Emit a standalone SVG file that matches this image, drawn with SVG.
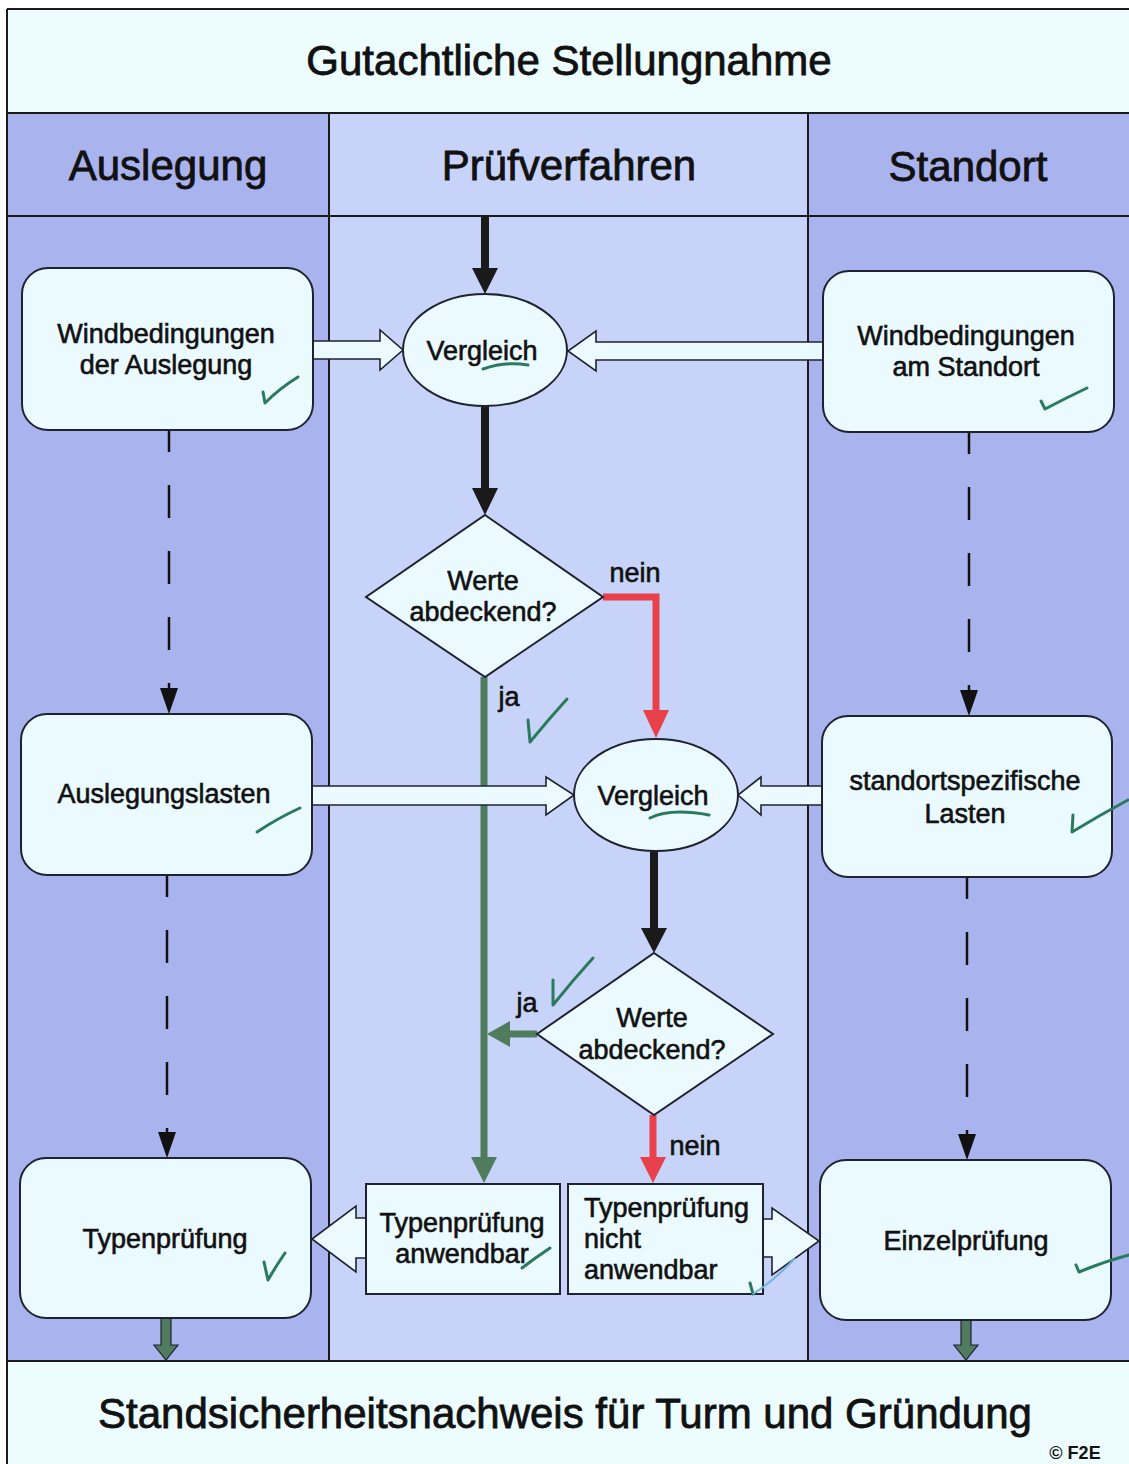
<svg xmlns="http://www.w3.org/2000/svg" width="1129" height="1464" viewBox="0 0 1129 1464">
<defs>
<style>
text{font-family:"Liberation Sans",Arial,sans-serif;fill:#111;text-anchor:middle;stroke:#111;stroke-width:0.6}
.big{font-size:42px;stroke-width:0.8}
.t{font-size:27px}
.node{fill:#eafaff;stroke:#1f2230;stroke-width:2}
.blk{fill:#eafaff;stroke:#1f2230;stroke-width:1.6;stroke-linejoin:miter}
.dash{stroke:#111;stroke-width:2.5;stroke-dasharray:33 33;stroke-dashoffset:11;fill:none}
.blackln{stroke:#1a1a1a;stroke-width:8;fill:none}
.redln{stroke:#e8414b;stroke-width:7;fill:none}
.greenln{stroke:#4e7c5c;stroke-width:7;fill:none}
.chk{stroke:#2a7a5c;stroke-width:3;fill:none;stroke-linecap:round;stroke-linejoin:round}
.grid{stroke:#1a1a1a;stroke-width:2;fill:none}
</style>
</defs>
<rect x="0" y="0" width="1129" height="1464" fill="#ffffff"/>
<g id="background">
<rect x="7" y="8" width="1122" height="105" fill="#ecfcff"/>
<rect x="7" y="113" width="322" height="1247" fill="#a9b3ee"/>
<rect x="329" y="113" width="479" height="1247" fill="#c7d3f8"/>
<rect x="808" y="113" width="321" height="1247" fill="#a9b3ee"/>
<rect x="7" y="1360" width="1122" height="104" fill="#ecfcff"/>
<path class="grid" d="M7,9 H1129 M7,113 H1129 M7,216 H1129 M7,1361 H1129 M7,9 V1464 M329,113 V1361 M808,113 V1361"/>
</g>
<g id="titles">
<text class="big" x="569" y="75">Gutachtliche Stellungnahme</text>
<text class="big" x="168" y="180">Auslegung</text>
<text class="big" x="569" y="180">Prüfverfahren</text>
<text class="big" x="968" y="181">Standort</text>
<text class="big" x="565" y="1428">Standsicherheitsnachweis für Turm und Gründung</text>
<text x="1075" y="1459" style="font-size:18px;font-weight:bold;stroke-width:0">© F2E</text>
</g>
<g id="connectors">
<line class="blackln" x1="485" y1="217" x2="485" y2="272"/>
<polygon points="472,268 498,268 485,294" fill="#1a1a1a"/>
<line class="blackln" x1="485" y1="406" x2="485" y2="492"/>
<polygon points="472,488 498,488 485,515" fill="#1a1a1a"/>
<line class="blackln" x1="654" y1="851" x2="654" y2="932"/>
<polygon points="641,928 667,928 654,953" fill="#1a1a1a"/>
<path class="redln" d="M603,597 H656 V714"/>
<polygon points="643,710 669,710 656,738" fill="#e8414b"/>
<path class="redln" d="M653,1115 V1160"/>
<polygon points="640,1157 666,1157 653,1183" fill="#e8414b"/>
<path class="greenln" d="M484,677 V1160"/>
<polygon points="471,1157 497,1157 484,1183" fill="#4e7c5c"/>
<path class="greenln" d="M537,1034 H506"/>
<polygon points="510,1021 510,1047 487,1034" fill="#4e7c5c"/>
<line class="dash" x1="169" y1="430" x2="169" y2="690"/>
<polygon points="160,688 178,688 169,714" fill="#111"/>
<line class="dash" x1="167" y1="875" x2="167" y2="1134"/>
<polygon points="158,1132 176,1132 167,1158" fill="#111"/>
<line class="dash" x1="969" y1="432" x2="969" y2="692"/>
<polygon points="960,690 978,690 969,716" fill="#111"/>
<line class="dash" x1="967" y1="877" x2="967" y2="1136"/>
<polygon points="958,1134 976,1134 967,1160" fill="#111"/>
<polygon class="blk" points="312,341 380,341 380,330 403,350 380,370 380,359 312,359"/>
<polygon class="blk" points="823,342 596,342 596,331 568,351 596,371 596,360 823,360"/>
<polygon class="blk" points="311,786 546,786 546,777 574,795 546,815 546,805 311,805"/>
<polygon class="blk" points="823,786 761,786 761,777 738,795 761,815 761,805 823,805"/>
<polygon points="161,1318 171,1318 171,1345 178,1345 166,1360 154,1345 161,1345" fill="#4e7c5c" stroke="#1f2230" stroke-width="1.2"/>
<polygon points="961,1320 971,1320 971,1345 978,1345 966,1360 954,1345 961,1345" fill="#4e7c5c" stroke="#1f2230" stroke-width="1.2"/>
</g>
<g id="n-wind-auslegung">
<rect class="node" x="22" y="268" width="291" height="162" rx="26"/>
<text class="t" x="166" y="343">Windbedingungen</text>
<text class="t" x="166" y="374">der Auslegung</text>
</g>
<g id="n-wind-standort">
<rect class="node" x="823" y="271" width="291" height="161" rx="26"/>
<text class="t" x="966" y="345">Windbedingungen</text>
<text class="t" x="966" y="376">am Standort</text>
</g>
<g id="n-vergleich1">
<ellipse class="node" cx="485" cy="350" rx="82" ry="56"/>
<text class="t" x="482" y="360">Vergleich</text>
</g>
<g id="n-werte1">
<polygon class="node" points="485,515 603,597 485,677 366,597"/>
<text class="t" x="483" y="590">Werte</text>
<text class="t" x="483" y="621">abdeckend?</text>
</g>
<g id="n-vergleich2">
<ellipse class="node" cx="656" cy="795" rx="82" ry="56"/>
<text class="t" x="653" y="805">Vergleich</text>
</g>
<g id="n-auslegungslasten">
<rect class="node" x="21" y="714" width="291" height="161" rx="26"/>
<text class="t" x="164" y="803">Auslegungslasten</text>
</g>
<g id="n-standortlasten">
<rect class="node" x="822" y="716" width="290" height="161" rx="26"/>
<text class="t" x="965" y="790">standortspezifische</text>
<text class="t" x="965" y="823">Lasten</text>
</g>
<g id="n-werte2">
<polygon class="node" points="654,953 773,1034 654,1115 537,1034"/>
<text class="t" x="652" y="1027">Werte</text>
<text class="t" x="652" y="1059">abdeckend?</text>
</g>
<g id="n-typ-anwendbar">
<polygon class="blk" points="366,1218 356,1218 356,1206 312,1239 356,1272 356,1258 366,1258"/>
<rect class="node" x="366" y="1184" width="194" height="110"/>
<text class="t" x="462" y="1232">Typenprüfung</text>
<text class="t" x="462" y="1263">anwendbar</text>
</g>
<g id="n-typ-nicht">
<polygon class="blk" points="763,1219 772,1219 772,1208 819,1241 772,1275 772,1257 763,1257"/>
<rect class="node" x="568" y="1184" width="195" height="110"/>
<text class="t" x="584" y="1217" style="text-anchor:start">Typenprüfung</text>
<text class="t" x="584" y="1248" style="text-anchor:start">nicht</text>
<text class="t" x="584" y="1279" style="text-anchor:start">anwendbar</text>
</g>
<g id="n-typenpruefung">
<rect class="node" x="20" y="1158" width="291" height="160" rx="26"/>
<text class="t" x="165" y="1248">Typenprüfung</text>
</g>
<g id="n-einzelpruefung">
<rect class="node" x="820" y="1160" width="291" height="160" rx="26"/>
<text class="t" x="966" y="1250">Einzelprüfung</text>
</g>
<g id="labels">
<text class="t" x="635" y="582">nein</text>
<text class="t" x="509" y="706">ja</text>
<text class="t" x="527" y="1012">ja</text>
<text class="t" x="695" y="1155">nein</text>
</g>
<g id="handmarks">
<path class="chk" d="M263,392 L265,403 Q280,388 298,377"/>
<path class="chk" d="M1041,401 L1045,409 Q1066,398 1087,388"/>
<path class="chk" d="M483,369 Q505,361 528,365"/>
<path class="chk" d="M528,720 L530,742 Q548,720 567,699"/>
<path class="chk" d="M650,818 Q670,808 709,815"/>
<path class="chk" d="M257,832 Q278,818 300,808"/>
<path class="chk" d="M1073,815 L1072,832 Q1100,815 1128,800"/>
<path class="chk" d="M553,980 L553,1005 Q573,980 593,958"/>
<path class="chk" d="M264,1262 L268,1280 Q276,1266 285,1253"/>
<path class="chk" d="M522,1268 Q535,1258 550,1248"/>
<path class="chk" d="M750,1283 L753,1294"/>
<path d="M753,1294 Q775,1280 795,1258" stroke="#6fb0e0" stroke-width="2" fill="none"/>
<path class="chk" d="M1076,1265 L1079,1272 Q1103,1262 1129,1255"/>
</g>
</svg>
